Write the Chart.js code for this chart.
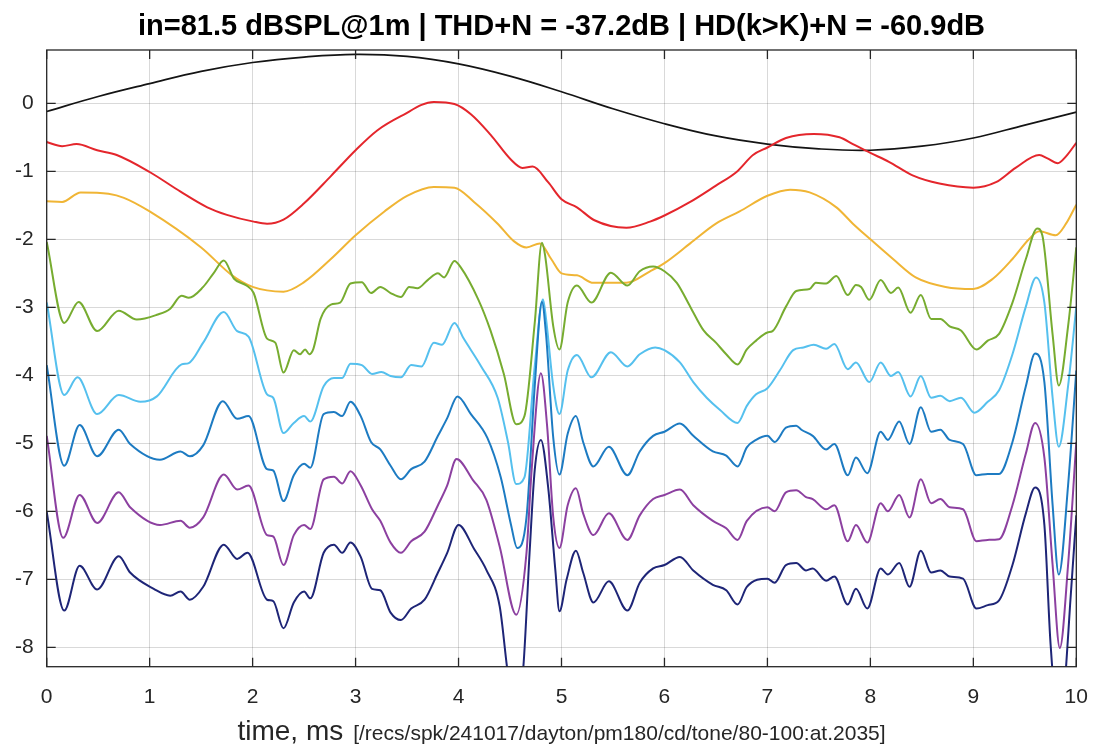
<!DOCTYPE html>
<html>
<head>
<meta charset="utf-8">
<script src="https://cdn.jsdelivr.net/npm/chart.js@4/dist/chart.umd.min.js"></script>
<style>
  html, body { margin: 0; padding: 0; background: #fff; }
  canvas { display: block; }
</style>
</head>
<body>
<canvas id="c" width="1096" height="751"></canvas>
<script>
// Tone-burst residual traces (time in ms, each trace in its own vertical band)
const titleText = 'in=81.5 dBSPL@1m | THD+N = -37.2dB | HD(k>K)+N = -60.9dB';
const xLabelMain = 'time, ms';
const xLabelPath = '[/recs/spk/241017/dayton/pm180/cd/tone/80-100:at.2035]';

const xTicks = [0, 1, 2, 3, 4, 5, 6, 7, 8, 9, 10];
const yTicks = [0, -1, -2, -3, -4, -5, -6, -7, -8];
const xRange = [0, 10];
const yRange = [-8.285, 0.784];

// input signal
const tBlack = [0, 0.5, 1, 1.5, 2, 2.5, 3, 3.5, 4, 4.5, 5, 5.5, 6, 6.5, 7, 7.5, 8, 8.5, 9, 9.5, 10];
const vBlack = [-0.12, 0.10, 0.29, 0.47, 0.60, 0.68, 0.72, 0.69, 0.58, 0.40, 0.17, -0.08, -0.30, -0.48, -0.60, -0.67, -0.69, -0.63, -0.51, -0.32, -0.13];

const tRed = [0, 0.15, 0.29, 0.49, 0.68, 1.0, 1.3, 1.56, 1.75, 2.01, 2.14, 2.3, 2.5, 2.76, 3.0, 3.21, 3.44, 3.76, 3.96, 4.12, 4.31, 4.51, 4.62, 4.72, 4.87, 5.0, 5.15, 5.32, 5.63, 5.86, 6.0, 6.25, 6.5, 6.7, 6.86, 7.0, 7.18, 7.45, 7.7, 7.83, 8.0, 8.18, 8.41, 8.67, 9.0, 9.22, 9.41, 9.64, 9.72, 9.82, 9.9, 10.0];
const vRed = [-0.57, -0.63, -0.60, -0.69, -0.76, -1.01, -1.30, -1.53, -1.64, -1.74, -1.77, -1.71, -1.47, -1.07, -0.69, -0.40, -0.19, 0.02, -0.01, -0.16, -0.46, -0.83, -0.95, -0.93, -1.16, -1.41, -1.53, -1.72, -1.83, -1.74, -1.65, -1.45, -1.21, -1.01, -0.76, -0.65, -0.51, -0.45, -0.50, -0.60, -0.73, -0.86, -1.06, -1.18, -1.24, -1.16, -0.95, -0.76, -0.81, -0.88, -0.78, -0.58];

const tOrange = [0, 0.15, 0.33, 0.6, 0.75, 1.0, 1.5, 1.8, 2.0, 2.3, 2.5, 2.76, 3.0, 3.28, 3.5, 3.76, 3.96, 4.15, 4.38, 4.54, 4.66, 4.79, 4.9, 5.0, 5.15, 5.31, 5.63, 5.86, 6.0, 6.25, 6.5, 6.73, 7.0, 7.22, 7.41, 7.67, 7.83, 8.0, 8.22, 8.44, 8.73, 9.0, 9.19, 9.38, 9.54, 9.64, 9.8, 9.9, 10.0];
const vOrange = [-1.44, -1.45, -1.31, -1.33, -1.39, -1.59, -2.12, -2.53, -2.70, -2.77, -2.63, -2.29, -1.94, -1.59, -1.36, -1.23, -1.24, -1.45, -1.77, -2.03, -2.12, -2.06, -2.29, -2.50, -2.53, -2.64, -2.64, -2.47, -2.35, -2.06, -1.77, -1.59, -1.36, -1.27, -1.31, -1.53, -1.77, -2.00, -2.29, -2.56, -2.70, -2.73, -2.58, -2.29, -2.00, -1.88, -1.94, -1.77, -1.49];

const tGreen = [0, 0.17, 0.31, 0.49, 0.70, 0.875, 1.07, 1.2, 1.31, 1.38, 1.52, 1.62, 1.72, 1.82, 1.94, 2.01, 2.14, 2.22, 2.30, 2.40, 2.46, 2.51, 2.55, 2.59, 2.66, 2.76, 2.85, 2.95, 3.06, 3.15, 3.24, 3.34, 3.44, 3.52, 3.6, 3.70, 3.8, 3.86, 3.96, 4.02, 4.19, 4.31, 4.44, 4.56, 4.64, 4.74, 4.81, 4.84, 4.92, 4.98, 5.06, 5.15, 5.29, 5.48, 5.64, 5.76, 5.89, 6.0, 6.12, 6.25, 6.38, 6.5, 6.6, 6.71, 6.8, 6.89, 7.0, 7.05, 7.18, 7.28, 7.41, 7.47, 7.57, 7.67, 7.78, 7.86, 7.91, 7.99, 8.1, 8.2, 8.27, 8.39, 8.49, 8.59, 8.68, 8.77, 8.88, 9.03, 9.14, 9.25, 9.38, 9.51, 9.62, 9.67, 9.77, 9.83, 9.92, 10.0];
const vGreen = [-2.04, -3.23, -2.92, -3.35, -3.05, -3.18, -3.11, -3.02, -2.83, -2.86, -2.70, -2.50, -2.31, -2.58, -2.68, -2.79, -3.46, -3.52, -3.96, -3.63, -3.69, -3.62, -3.69, -3.61, -3.17, -2.96, -2.93, -2.65, -2.63, -2.79, -2.70, -2.79, -2.85, -2.70, -2.72, -2.60, -2.50, -2.56, -2.32, -2.41, -2.88, -3.34, -3.98, -4.72, -4.60, -3.23, -2.05, -2.23, -3.28, -3.62, -2.93, -2.68, -2.93, -2.49, -2.68, -2.47, -2.40, -2.47, -2.64, -2.99, -3.34, -3.52, -3.69, -3.84, -3.62, -3.49, -3.37, -3.35, -2.99, -2.76, -2.73, -2.64, -2.65, -2.54, -2.82, -2.67, -2.70, -2.89, -2.60, -2.79, -2.71, -3.08, -2.82, -3.17, -3.17, -3.28, -3.34, -3.62, -3.49, -3.39, -2.93, -2.29, -1.84, -1.94, -3.40, -4.15, -3.28, -2.12];

const tCyan = [0, 0.17, 0.30, 0.49, 0.70, 0.91, 1.07, 1.31, 1.38, 1.52, 1.72, 1.85, 1.96, 2.14, 2.2, 2.3, 2.4, 2.5, 2.56, 2.69, 2.79, 2.87, 2.95, 3.06, 3.16, 3.25, 3.34, 3.44, 3.54, 3.64, 3.76, 3.84, 3.96, 4.05, 4.22, 4.38, 4.48, 4.56, 4.64, 4.74, 4.82, 4.85, 4.92, 4.98, 5.06, 5.15, 5.29, 5.48, 5.64, 5.76, 5.91, 6.0, 6.15, 6.28, 6.41, 6.54, 6.71, 6.8, 6.89, 7.0, 7.12, 7.25, 7.35, 7.45, 7.57, 7.65, 7.78, 7.86, 7.99, 8.1, 8.2, 8.27, 8.39, 8.49, 8.59, 8.68, 8.77, 8.88, 9.01, 9.14, 9.25, 9.38, 9.51, 9.61, 9.69, 9.77, 9.83, 9.92, 10.0];
const vCyan = [-2.93, -4.29, -4.03, -4.57, -4.29, -4.39, -4.31, -3.84, -3.82, -3.52, -3.07, -3.35, -3.43, -4.28, -4.33, -4.85, -4.70, -4.60, -4.68, -4.16, -4.04, -4.04, -3.83, -3.85, -3.98, -3.95, -4.01, -4.03, -3.85, -3.87, -3.52, -3.55, -3.23, -3.46, -3.87, -4.33, -4.98, -5.60, -5.50, -3.87, -2.88, -3.17, -4.16, -4.57, -3.93, -3.70, -4.03, -3.66, -3.87, -3.69, -3.59, -3.63, -3.81, -4.10, -4.33, -4.51, -4.70, -4.45, -4.28, -4.19, -3.93, -3.63, -3.59, -3.55, -3.61, -3.54, -3.91, -3.81, -4.10, -3.81, -4.01, -3.95, -4.31, -4.01, -4.33, -4.30, -4.38, -4.33, -4.55, -4.39, -4.22, -3.69, -2.99, -2.56, -2.93, -4.33, -5.05, -4.16, -2.99];

const tBlue = [0, 0.17, 0.32, 0.49, 0.70, 0.81, 1.1, 1.3, 1.39, 1.52, 1.71, 1.85, 1.96, 2.14, 2.2, 2.3, 2.4, 2.5, 2.56, 2.69, 2.79, 2.87, 2.95, 3.05, 3.15, 3.24, 3.34, 3.44, 3.54, 3.67, 3.8, 3.89, 3.99, 4.12, 4.28, 4.41, 4.51, 4.57, 4.66, 4.74, 4.81, 4.85, 4.92, 4.98, 5.06, 5.14, 5.21, 5.31, 5.46, 5.64, 5.76, 5.89, 6.0, 6.15, 6.28, 6.47, 6.6, 6.71, 6.8, 6.89, 7.0, 7.07, 7.18, 7.28, 7.33, 7.44, 7.57, 7.65, 7.78, 7.86, 7.97, 8.1, 8.17, 8.28, 8.38, 8.49, 8.59, 8.68, 8.77, 8.9, 9.03, 9.14, 9.25, 9.38, 9.51, 9.6, 9.69, 9.77, 9.83, 9.92, 10.0];
const vBlue = [-3.85, -5.33, -4.73, -5.19, -4.80, -5.01, -5.24, -5.12, -5.19, -5.03, -4.38, -4.64, -4.60, -5.38, -5.40, -5.85, -5.47, -5.30, -5.36, -4.57, -4.54, -4.60, -4.39, -4.60, -4.98, -5.09, -5.33, -5.53, -5.38, -5.27, -4.89, -4.63, -4.31, -4.57, -4.92, -5.50, -6.20, -6.54, -6.09, -4.16, -2.92, -3.40, -4.92, -5.46, -4.86, -4.60, -4.98, -5.34, -5.05, -5.47, -5.12, -4.89, -4.83, -4.71, -4.89, -5.12, -5.18, -5.34, -5.06, -4.95, -4.89, -4.98, -4.77, -4.74, -4.80, -4.89, -5.09, -5.01, -5.47, -5.21, -5.44, -4.83, -4.95, -4.68, -5.01, -4.47, -4.83, -4.80, -4.95, -5.01, -5.47, -5.45, -5.45, -4.98, -4.16, -3.68, -4.10, -5.91, -6.93, -5.62, -3.93];

const tPurple = [0, 0.16, 0.32, 0.49, 0.70, 0.81, 1.1, 1.3, 1.39, 1.52, 1.72, 1.85, 1.96, 2.14, 2.2, 2.3, 2.4, 2.5, 2.56, 2.69, 2.79, 2.87, 2.95, 3.05, 3.16, 3.24, 3.34, 3.44, 3.54, 3.67, 3.8, 3.89, 3.98, 4.14, 4.27, 4.40, 4.56, 4.66, 4.71, 4.80, 4.86, 4.92, 4.98, 5.06, 5.14, 5.21, 5.31, 5.46, 5.64, 5.76, 5.89, 6.0, 6.15, 6.28, 6.47, 6.6, 6.71, 6.8, 7.0, 7.07, 7.18, 7.28, 7.375, 7.44, 7.57, 7.65, 7.78, 7.86, 7.97, 8.1, 8.17, 8.28, 8.38, 8.49, 8.59, 8.68, 8.77, 8.9, 9.03, 9.14, 9.25, 9.38, 9.51, 9.6, 9.69, 9.77, 9.84, 9.92, 10.0];
const vPurple = [-4.89, -6.39, -5.76, -6.17, -5.72, -5.94, -6.20, -6.14, -6.24, -6.09, -5.46, -5.68, -5.62, -6.35, -6.37, -6.79, -6.35, -6.20, -6.26, -5.53, -5.49, -5.59, -5.41, -5.62, -5.97, -6.14, -6.46, -6.61, -6.44, -6.30, -5.91, -5.62, -5.23, -5.54, -5.83, -6.52, -7.52, -6.61, -5.39, -3.97, -4.74, -6.09, -6.54, -5.91, -5.66, -6.03, -6.35, -6.03, -6.42, -6.06, -5.82, -5.76, -5.68, -5.91, -6.14, -6.25, -6.42, -6.14, -5.94, -6.00, -5.72, -5.69, -5.79, -5.82, -5.97, -5.91, -6.44, -6.20, -6.46, -5.88, -6.00, -5.76, -6.09, -5.53, -5.88, -5.82, -5.94, -5.97, -6.44, -6.42, -6.41, -5.91, -5.15, -4.70, -5.21, -6.79, -8.01, -6.79, -4.98];

const tNavy = [0, 0.17, 0.32, 0.49, 0.70, 0.81, 1.04, 1.2, 1.3, 1.39, 1.52, 1.72, 1.85, 1.95, 2.14, 2.2, 2.3, 2.4, 2.5, 2.56, 2.69, 2.79, 2.87, 2.95, 3.05, 3.16, 3.24, 3.34, 3.44, 3.54, 3.67, 3.8, 3.89, 4.0, 4.15, 4.27, 4.40, 4.47, 4.55, 4.63, 4.69, 4.74, 4.80, 4.87, 4.94, 4.98, 5.05, 5.14, 5.21, 5.31, 5.46, 5.64, 5.76, 5.89, 6.0, 6.15, 6.28, 6.47, 6.6, 6.71, 6.8, 7.0, 7.07, 7.18, 7.28, 7.375, 7.44, 7.57, 7.65, 7.78, 7.86, 7.97, 8.1, 8.17, 8.28, 8.38, 8.49, 8.59, 8.68, 8.77, 8.9, 9.03, 9.14, 9.25, 9.38, 9.51, 9.6, 9.69, 9.75, 9.84, 9.9, 9.94, 10.0];
const vNavy = [-6.01, -7.46, -6.80, -7.15, -6.66, -6.90, -7.14, -7.24, -7.18, -7.30, -7.11, -6.49, -6.70, -6.61, -7.30, -7.32, -7.72, -7.34, -7.18, -7.28, -6.61, -6.49, -6.61, -6.46, -6.67, -7.14, -7.16, -7.49, -7.60, -7.43, -7.30, -6.90, -6.61, -6.20, -6.55, -6.86, -7.40, -8.28, -9.20, -8.28, -6.61, -5.39, -4.95, -5.64, -6.86, -7.47, -7.00, -6.58, -6.90, -7.34, -7.03, -7.46, -7.05, -6.84, -6.79, -6.67, -6.87, -7.08, -7.16, -7.37, -7.11, -6.99, -7.05, -6.79, -6.76, -6.87, -6.84, -7.02, -6.96, -7.37, -7.14, -7.43, -6.84, -6.93, -6.76, -7.11, -6.58, -6.90, -6.87, -6.96, -6.99, -7.43, -7.38, -7.31, -6.79, -6.03, -5.65, -6.20, -7.95, -9.30, -8.30, -7.37, -6.06];

const seriesList = [
  { t: tBlack,  v: vBlack,  color: '#141414', width: 1.7 },
  { t: tRed,    v: vRed,    color: '#e4262c', width: 2 },
  { t: tOrange, v: vOrange, color: '#f0b535', width: 2 },
  { t: tGreen,  v: vGreen,  color: '#77ac30', width: 2 },
  { t: tCyan,   v: vCyan,   color: '#55c0ee', width: 2 },
  { t: tBlue,   v: vBlue,   color: '#1d7bc2', width: 2 },
  { t: tPurple, v: vPurple, color: '#8c40a0', width: 2 },
  { t: tNavy,   v: vNavy,   color: '#1e2577', width: 2 }
];

const FONT = '"Liberation Sans", Arial, Helvetica, sans-serif';
const AXIS_COLOR = '#262626';
const PLOT = { left: 46.7, right: 1076.3, top: 50, bottom: 666.7 };

// MATLAB-style box with inward tick marks, plus title and axis label
const framePlugin = {
  id: 'frame',
  afterDraw(chart) {
    const ctx = chart.ctx;
    const a = chart.chartArea;
    const xs = chart.scales.x, ys = chart.scales.y;
    const tl = 9;
    ctx.save();
    ctx.strokeStyle = AXIS_COLOR;
    ctx.lineWidth = 1.3;
    ctx.strokeRect(a.left, a.top, a.right - a.left, a.bottom - a.top);
    ctx.beginPath();
    xTicks.forEach(v => {
      const px = xs.getPixelForValue(v);
      ctx.moveTo(px, a.bottom); ctx.lineTo(px, a.bottom - tl);
      ctx.moveTo(px, a.top); ctx.lineTo(px, a.top + tl);
    });
    yTicks.forEach(v => {
      const py = ys.getPixelForValue(v);
      ctx.moveTo(a.left, py); ctx.lineTo(a.left + tl, py);
      ctx.moveTo(a.right, py); ctx.lineTo(a.right - tl, py);
    });
    ctx.stroke();

    // title
    ctx.fillStyle = '#000';
    ctx.font = 'bold 29px ' + FONT;
    ctx.textAlign = 'center';
    ctx.textBaseline = 'alphabetic';
    const cx = (a.left + a.right) / 2;
    ctx.fillText(titleText, cx, 35);

    // x axis label: large caption followed by smaller source path
    ctx.fillStyle = AXIS_COLOR;
    const bigFont = '28px ' + FONT, smallFont = '21px ' + FONT;
    ctx.font = bigFont;
    const w1 = ctx.measureText(xLabelMain).width;
    ctx.font = smallFont;
    const gap = 10;
    const w2 = ctx.measureText(xLabelPath).width;
    const x0 = cx - (w1 + gap + w2) / 2;
    ctx.textAlign = 'left';
    ctx.font = bigFont;
    ctx.fillText(xLabelMain, x0, 740);
    ctx.font = smallFont;
    ctx.fillText(xLabelPath, x0 + w1 + gap, 740);
    ctx.restore();
  }
};

const datasets = seriesList.map((s, i) => ({
  data: s.t.map((t, k) => ({ x: t, y: s.v[k] })),
  borderColor: s.color,
  borderWidth: s.width,
  pointRadius: 0,
  fill: false,
  cubicInterpolationMode: i === 0 ? 'default' : 'monotone',
  tension: 0.4,
  order: seriesList.length - i
}));

new Chart(document.getElementById('c'), {
  type: 'line',
  data: { datasets },
  options: {
    responsive: false,
    animation: false,
    events: [],
    layout: { padding: { top: PLOT.top, right: 1096 - PLOT.right, left: 0, bottom: 0 } },
    plugins: { legend: { display: false }, tooltip: { enabled: false }, title: { display: false } },
    scales: {
      x: {
        type: 'linear', min: xRange[0], max: xRange[1],
        afterBuildTicks: s => { s.ticks = xTicks.map(v => ({ value: v })); },
        afterFit: s => { s.height = 751 - PLOT.bottom; s.paddingLeft = 0; s.paddingRight = 0; },
        grid: { color: 'rgba(0,0,0,0.15)', lineWidth: 1, drawTicks: false },
        border: { display: false },
        ticks: { color: AXIS_COLOR, font: { family: FONT, size: 21 }, padding: 18, maxRotation: 0, autoSkip: false }
      },
      y: {
        type: 'linear', min: yRange[0], max: yRange[1],
        afterBuildTicks: s => { s.ticks = yTicks.map(v => ({ value: v })); },
        afterFit: s => { s.width = PLOT.left; s.paddingTop = 0; s.paddingBottom = 0; },
        grid: { color: 'rgba(0,0,0,0.15)', lineWidth: 1, drawTicks: false },
        border: { display: false },
        ticks: { color: AXIS_COLOR, font: { family: FONT, size: 21 }, padding: 13, autoSkip: false }
      }
    }
  },
  plugins: [framePlugin]
});
</script>
</body>
</html>
